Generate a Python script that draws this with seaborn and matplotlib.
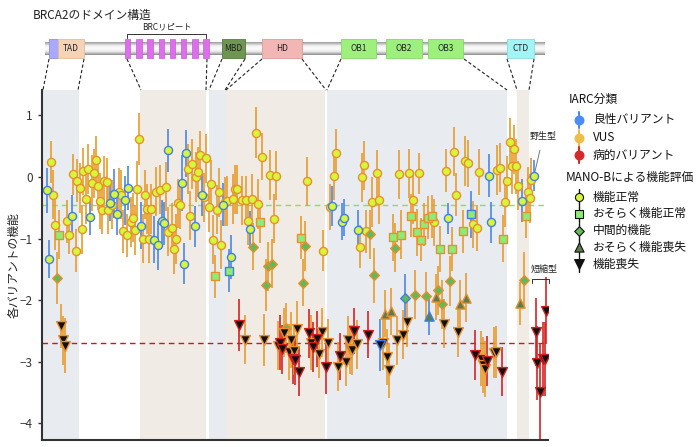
import numpy as np
import pandas as pd
import matplotlib
matplotlib.use("Agg")
import matplotlib.pyplot as plt
from matplotlib.patches import Rectangle
import seaborn as sns

sns.set_style("ticks")
plt.rcParams['font.family'] = ['Noto Sans CJK JP', 'DejaVu Sans']
plt.rcParams['axes.unicode_minus'] = True

# variant data (position along the plot, score, error half-width,
# IARC class B/V/P, MANO-B call N/PN/I/PL/L)
pos = [5.3, 9.0, 11.3, 7.0, 13.0, 17.0, 15.3, 19.0, 21.0, 23.0, 25.3, 27.3, 29.7, 31.3, 33.7,
       35.3, 37.7, 39.7, 41.3, 44.0, 46.0, 47.7, 49.7, 52.0, 54.0, 56.0, 58.0, 60.0, 62.3, 64.7,
       66.3, 68.0, 70.0, 72.0, 74.7, 76.7, 79.0, 80.7, 82.7, 84.7, 86.3, 88.7, 90.7, 93.0, 95.0,
       96.7, 99.0, 101.3, 103.3, 105.0, 107.3, 109.3, 111.7, 113.7, 115.7, 118.0, 119.7, 122.0, 123.7, 126.3,
       125.7, 129.7, 133.7, 131.7, 135.7, 138.0, 139.7, 142.0, 144.0, 146.0, 148.3, 150.3, 152.7, 154.3, 156.3,
       158.3, 160.3, 162.3, 164.3, 166.7, 169.0, 171.0, 173.0, 175.0, 177.0, 179.0, 181.3, 183.0, 185.3, 187.3,
       189.3, 191.3, 193.0, 195.3, 197.3, 199.7, 203.3, 203.7, 205.7, 207.7, 209.7, 211.3, 213.7, 216.0, 218.0,
       220.0, 221.7, 224.0, 226.0, 228.3, 230.0, 232.0, 234.3, 235.7, 238.0, 240.3, 242.3, 244.0, 247.0, 248.7,
       250.7, 254.7, 251.7, 252.9, 257.0, 264.7, 258.7, 263.0, 260.7, 267.0, 269.0, 271.3, 275.3, 277.3, 279.7,
       281.3, 283.7, 285.7, 287.7, 289.7, 291.7, 293.7, 295.7, 297.7, 300.0, 302.0, 304.0, 306.3, 308.0, 310.0,
       312.3, 314.7, 316.0, 318.0, 320.0, 322.0, 324.0, 326.3, 328.3, 330.3, 332.3, 334.7, 336.7, 338.3, 340.7,
       343.0, 344.7, 347.0, 349.0, 351.0, 353.0, 355.0, 357.0, 359.0, 361.0, 363.0, 365.0, 367.0, 369.0, 371.3,
       373.3, 375.0, 377.3, 379.3, 382.0, 383.7, 385.7, 387.3, 390.0, 392.0, 393.7, 395.7, 397.7, 400.0, 402.3,
       404.0, 406.0, 408.0, 410.3, 412.3, 414.3, 416.3, 418.3, 420.7, 422.7, 424.3, 426.3, 428.7, 430.7, 433.0,
       435.0, 437.0, 439.3, 441.3, 443.0, 445.0, 447.0, 449.3, 451.7, 453.7, 455.3, 457.7, 459.7, 461.3, 463.3,
       465.3, 467.7, 469.7, 471.7, 473.7, 476.0, 477.7, 479.7, 481.7, 484.0, 485.7, 488.0, 489.3, 492.0,
       494.0, 495.3, 498.3, 500.7, 503.0, 504.3]
score = [-0.22, 0.24, -0.29, -1.33, -0.78, -0.94, -1.64, -2.42, -2.65, -2.74, -0.72, -0.95, -0.63, 0.04, -1.20,
         -0.06, -0.18, -0.85, 0.09, -0.36, 0.13, -0.65, -0.10, 0.06, 0.27, -0.14, -0.39, -0.53, -0.06, -0.09,
         -0.53, -0.42, -0.45, -0.27, -0.60, -0.25, -0.29, -0.88, -0.38, -0.95, -0.18, -0.73, -0.66, -0.86, -0.19,
         0.61, -0.79, -1.00, -0.29, -0.52, -1.00, -0.52, -1.02, -0.24, -1.11, -0.21, -0.72, -0.75, -0.16, 0.43,
         -0.89, -0.83, -1.01, -1.17, -0.43, -0.45, -0.10, -1.41, 0.38, 0.13, -0.63, 0.21, -0.80, 0.00, 0.08,
         0.35, -0.29, -0.33, 0.30, -0.49, -0.12, -1.02, -1.61, -0.53, -0.25, -1.10, -0.45, -0.40, -0.39, -1.52,
         -1.30, -0.36, -0.20, -0.20, -2.40, -0.38, -2.64, -0.38, -0.71, -0.85, -0.36, -1.13, 0.72, -0.44, -0.73,
         0.33, -2.65, -1.76, -1.45, 0.03, -1.41, -0.68, 0.02, -2.74, -2.69, -2.80, -2.53, -2.45, -2.84, -2.65,
         -2.96, -2.47, -2.82, -2.97, -3.16, -0.07, -0.99, -1.12, -1.72, -2.54, -2.69, -2.76, -2.63, -2.87, -2.52,
         -1.20, -3.08, -2.70, -0.49, -0.47, 0.02, 0.38, -3.08, -2.91, -0.73, -0.66, -3.00, -2.65, -2.80, -2.81,
         -2.50, -2.72, -0.87, -1.13, -0.01, 0.19, -0.88, -2.56, -0.93, -0.41, -1.60, 0.06, -0.37, -2.73, -2.69,
         -2.22, -2.92, -3.14, -2.18, -0.98, -1.15, -2.65, 0.04, -0.94, -2.56, -1.96, -2.36, 0.06, -0.63, -0.37,
         -1.91, -0.90, 0.06, -1.02, -0.77, -1.94, -0.66, -2.26, -0.64, -0.74, -1.95, -1.84, -1.17, -2.07, -2.38,
         0.10, -0.67, -1.69, -1.17, 0.41, -0.29, -2.51, -2.07, -0.88, 0.26, -1.96, 0.22, -0.61, -0.77, -2.89,
         -0.83, 0.08, -2.95, -3.05, -3.12, -2.99, 0.02, -0.74, -2.85, -2.84, 0.11, 0.15, -3.16, -1.00, -0.41,
         -0.06, 0.56, 0.18, 0.45, 0.17, -0.14, -2.05, -0.39, -1.67, -0.64, -0.24, -0.35, -0.05, 0.02,
         -2.52, -3.02, -3.49, -2.96, -2.95, -2.17]
err = [0.36, 0.34, 0.40, 0.31, 0.40, 0.40, 0.42, 0.35, 0.40, 0.45, 0.35, 0.30, 0.33, 0.33, 0.35,
       0.35, 0.40, 0.40, 0.38, 0.40, 0.40, 0.30, 0.45, 0.40, 0.40, 0.40, 0.45, 0.40, 0.40, 0.40,
       0.40, 0.30, 0.40, 0.40, 0.35, 0.40, 0.40, 0.35, 0.40, 0.35, 0.35, 0.40, 0.40, 0.40, 0.45,
       0.42, 0.38, 0.40, 0.40, 0.40, 0.40, 0.40, 0.38, 0.40, 0.40, 0.40, 0.35, 0.35, 0.40, 0.35,
       0.40, 0.40, 0.40, 0.40, 0.40, 0.40, 0.45, 0.33, 0.38, 0.40, 0.40, 0.40, 0.33, 0.40, 0.40,
       0.40, 0.35, 0.40, 0.40, 0.40, 0.40, 0.40, 0.35, 0.40, 0.40, 0.40, 0.35, 0.40, 0.40, 0.35,
       0.35, 0.40, 0.40, 0.40, 0.42, 0.40, 0.40, 0.40, 0.40, 0.30, 0.40, 0.38, 0.42, 0.40, 0.35,
       0.38, 0.42, 0.42, 0.40, 0.40, 0.40, 0.40, 0.40, 0.40, 0.45, 0.40, 0.40, 0.40, 0.45, 0.45,
       0.40, 0.45, 0.40, 0.40, 0.40, 0.40, 0.35, 0.40, 0.38, 0.40, 0.45, 0.40, 0.45, 0.40, 0.40,
       0.33, 0.45, 0.40, 0.38, 0.33, 0.40, 0.40, 0.40, 0.38, 0.30, 0.30, 0.40, 0.40, 0.40, 0.40,
       0.38, 0.40, 0.33, 0.35, 0.40, 0.40, 0.35, 0.38, 0.40, 0.40, 0.45, 0.38, 0.40, 0.42, 0.45,
       0.38, 0.45, 0.45, 0.38, 0.38, 0.40, 0.40, 0.40, 0.40, 0.40, 0.38, 0.40, 0.40, 0.35, 0.40,
       0.40, 0.38, 0.33, 0.35, 0.35, 0.40, 0.35, 0.30, 0.35, 0.38, 0.38, 0.40, 0.38, 0.40, 0.40,
       0.35, 0.25, 0.40, 0.35, 0.40, 0.35, 0.42, 0.40, 0.35, 0.40, 0.40, 0.38, 0.38, 0.38, 0.40,
       0.38, 0.38, 0.45, 0.45, 0.45, 0.40, 0.35, 0.33, 0.42, 0.42, 0.40, 0.40, 0.40, 0.38, 0.40,
       0.40, 0.40, 0.45, 0.40, 0.45, 0.40, 0.35, 0.35, 0.45, 0.35, 0.40, 0.40, 0.35, 0.25,
       0.55, 0.60, 0.80, 0.60, 0.60, 0.55]
iarc = ['B', 'V', 'V', 'B', 'V', 'V', 'V', 'V', 'V', 'V', 'V', 'V', 'B', 'V', 'V',
        'V', 'V', 'V', 'V', 'V', 'V', 'B', 'V', 'V', 'V', 'V', 'V', 'V', 'V', 'V',
        'V', 'B', 'V', 'B', 'B', 'V', 'V', 'V', 'B', 'V', 'B', 'V', 'V', 'V', 'V',
        'V', 'B', 'V', 'V', 'V', 'V', 'V', 'B', 'V', 'B', 'V', 'B', 'B', 'V', 'B',
        'V', 'V', 'V', 'V', 'V', 'V', 'B', 'B', 'B', 'V', 'V', 'V', 'B', 'V', 'V',
        'V', 'B', 'V', 'V', 'V', 'V', 'V', 'V', 'V', 'V', 'V', 'B', 'V', 'V', 'B',
        'B', 'V', 'V', 'V', 'P', 'V', 'V', 'V', 'V', 'B', 'V', 'V', 'V', 'V', 'V',
        'V', 'V', 'V', 'V', 'V', 'V', 'V', 'V', 'V', 'P', 'P', 'V', 'V', 'V', 'V',
        'P', 'V', 'V', 'P', 'P', 'V', 'V', 'V', 'V', 'P', 'V', 'P', 'P', 'V', 'V',
        'V', 'P', 'V', 'V', 'B', 'V', 'V', 'V', 'P', 'B', 'B', 'V', 'V', 'V', 'V',
        'P', 'V', 'B', 'V', 'V', 'V', 'V', 'P', 'V', 'V', 'V', 'V', 'V', 'B', 'V',
        'V', 'V', 'V', 'V', 'V', 'V', 'V', 'V', 'V', 'V', 'B', 'V', 'V', 'V', 'V',
        'V', 'V', 'V', 'V', 'V', 'V', 'V', 'B', 'V', 'V', 'V', 'V', 'V', 'V', 'V',
        'V', 'B', 'V', 'V', 'V', 'V', 'V', 'V', 'V', 'V', 'V', 'V', 'B', 'V', 'P',
        'V', 'V', 'V', 'V', 'V', 'P', 'B', 'B', 'V', 'V', 'V', 'V', 'P', 'V', 'V',
        'V', 'V', 'V', 'V', 'V', 'V', 'V', 'B', 'V', 'V', 'V', 'V', 'V', 'B',
        'P', 'P', 'P', 'P', 'P', 'P']
func = ['N', 'N', 'N', 'N', 'N', 'PN', 'I', 'L', 'L', 'L', 'N', 'N', 'N', 'N', 'N',
        'N', 'N', 'N', 'N', 'N', 'N', 'N', 'N', 'N', 'N', 'N', 'N', 'N', 'N', 'N',
        'N', 'N', 'N', 'N', 'N', 'N', 'N', 'N', 'N', 'N', 'N', 'N', 'N', 'N', 'N',
        'N', 'N', 'N', 'N', 'N', 'N', 'N', 'N', 'N', 'N', 'N', 'N', 'N', 'N', 'N',
        'N', 'N', 'N', 'N', 'N', 'N', 'N', 'N', 'N', 'N', 'N', 'N', 'N', 'N', 'N',
        'N', 'N', 'N', 'N', 'N', 'N', 'N', 'PN', 'N', 'N', 'N', 'N', 'N', 'N', 'PN',
        'N', 'N', 'N', 'N', 'L', 'N', 'L', 'N', 'N', 'N', 'N', 'I', 'N', 'N', 'PN',
        'N', 'L', 'I', 'I', 'N', 'I', 'N', 'N', 'L', 'L', 'L', 'L', 'I', 'L', 'L',
        'L', 'L', 'L', 'L', 'L', 'N', 'PN', 'I', 'I', 'L', 'L', 'L', 'L', 'L', 'L',
        'N', 'L', 'L', 'N', 'N', 'N', 'N', 'L', 'L', 'N', 'N', 'L', 'L', 'L', 'L',
        'L', 'L', 'N', 'N', 'N', 'N', 'N', 'L', 'I', 'N', 'I', 'N', 'N', 'L', 'L',
        'PL', 'L', 'L', 'PL', 'PN', 'I', 'L', 'N', 'PN', 'L', 'I', 'L', 'N', 'PN', 'N',
        'I', 'PN', 'N', 'PN', 'PN', 'I', 'PN', 'PL', 'PN', 'N', 'PL', 'I', 'PN', 'I', 'L',
        'N', 'N', 'I', 'PN', 'N', 'N', 'L', 'PL', 'PN', 'N', 'PL', 'N', 'PN', 'N', 'L',
        'N', 'N', 'L', 'L', 'L', 'L', 'N', 'N', 'L', 'L', 'N', 'N', 'L', 'PN', 'N',
        'N', 'N', 'N', 'N', 'N', 'N', 'PL', 'N', 'I', 'PN', 'N', 'N', 'N', 'N',
        'L', 'L', 'L', 'L', 'L', 'L']

# position of the wild-type reference measurement
wt_pos = 492.0

normal_level = -0.45
lof_level = -2.69

# domain shading in the variant plot
shade_lo = [1, 98, 167, 184, 285, 475]
shade_hi = [37, 164, 184, 283, 465, 487]
shade_col = ['#e8ecf0', '#f1ebe5', '#e8ecf0', '#f1ebe5', '#e8ecf0', '#f1ebe5']

# domain cartoon (figure pixels)
dom_names = ['', 'TAD', 'MBD', 'HD', 'OB1', 'OB2', 'OB3', 'CTD']
dom_x0 = [49, 58, 222, 262, 341, 386, 428, 507]
dom_x1 = [58, 84, 245, 302, 376, 422, 463, 534]
dom_col = ['#a9a9ff', '#f4d3b6', '#6f9552', '#f2b6b4', '#9ef07d', '#9ef07d', '#9ef07d', '#a2f5f5']
dom_edge = ['#8f8fe8', '#e3bc9a', '#587a40', '#dc9a98', '#86d868', '#86d868', '#86d868', '#86dede']
brc_x0 = [125, 136.2, 147.4, 158.6, 169.8, 181, 192.2, 203.4]
conn_top = [49, 84, 127, 207, 222, 245, 262, 302, 341, 464, 507, 534]
conn_bot = [43, 78, 141, 206, 209, 225, 226, 326, 327, 507, 517, 529]

df = pd.DataFrame({'pos': pos, 'score': score, 'err': err, 'iarc': iarc, 'func': func})

bar_col = {'B': '#4a86e8', 'V': '#e89b2c', 'P': '#d42323'}
edge_col = {'B': '#3f7fe6', 'V': '#e8902a', 'P': '#d01f1f'}
fill_col = {'N': '#d7f53a', 'PN': '#8cec76', 'I': '#63b85a', 'PL': '#5d7b4e', 'L': '#111111'}
marker = {'N': 'o', 'PN': 's', 'I': 'D', 'PL': '^', 'L': 'v'}
msize = {'N': 34, 'PN': 26, 'I': 24, 'PL': 44, 'L': 50}

fig = plt.figure(figsize=(7, 4.47), dpi=100)
ax = fig.add_axes([42 / 700, 7 / 447, 506 / 700, 350 / 447])

for lo, hi, c in zip(shade_lo, shade_hi, shade_col):
    ax.axvspan(lo, hi, color=c, lw=0, zorder=0)

ax.axhline(normal_level, color='#8de04a', ls=(0, (4, 3)), lw=1, zorder=1)
ax.axhline(lof_level, color='#c8191e', ls=(0, (4, 3)), lw=1, zorder=1)

ax.vlines(df['pos'], df['score'] - df['err'], df['score'] + df['err'],
          colors=df['iarc'].map(bar_col), lw=1.4, alpha=0.85, zorder=2)

for f in ['N', 'PN', 'I', 'PL', 'L']:
    for c in ['V', 'B', 'P']:
        sub = df[(df['func'] == f) & (df['iarc'] == c)]
        if len(sub) == 0:
            continue
        sns.scatterplot(data=sub, x='pos', y='score', marker=marker[f], s=msize[f],
                        color=fill_col[f], edgecolor=edge_col[c], linewidth=1,
                        ax=ax, legend=False, zorder=3)

ax.set_xlim(0, 506)
ax.set_ylim(-4.27, 1.41)
ax.set_yticks([1, 0, -1, -2, -3, -4])
ax.set_xticks([])
ax.set_xlabel('')
ax.set_ylabel('各バリアントの機能', fontsize=8.5, color='#222222')
ax.yaxis.set_label_coords(-0.043, 0.5)
ax.tick_params(axis='y', labelsize=8.5, colors='#333333', length=3, width=1)
for s in ['top', 'right']:
    ax.spines[s].set_visible(False)
for s in ['left', 'bottom']:
    ax.spines[s].set_color('#333333')
    ax.spines[s].set_linewidth(1.5)

# overlay in figure pixels for the domain cartoon and legend
ov = fig.add_axes([0, 0, 1, 1])
ov.set_xlim(0, 700)
ov.set_ylim(447, 0)
ov.axis('off')

ov.text(33, 15, 'BRCA2のドメイン構造', fontsize=8.5, va='center', ha='left', color='#222222')

grad = np.array([0.45, 0.3, 0.15, 0.06, 0.04, 0.08, 0.18, 0.32, 0.5])[:, None]
ov.imshow(grad, extent=(45, 545, 55, 42), cmap='Greys', vmin=0, vmax=1, aspect='auto', zorder=1)
ov.set_xlim(0, 700)
ov.set_ylim(447, 0)

for name, x0, x1, c, e in zip(dom_names, dom_x0, dom_x1, dom_col, dom_edge):
    ov.add_patch(Rectangle((x0, 39), x1 - x0, 19, fc=c, ec=e, lw=0.6, zorder=2))
    if name:
        ov.text((x0 + x1) / 2, 48.5, name, fontsize=6, ha='center', va='center', color='#222222', zorder=3)
for x0 in brc_x0:
    ov.add_patch(Rectangle((x0, 39), 5.3, 19, fc='#dd70ea', ec='#c85ad6', lw=0.5, zorder=2))

ov.plot([127, 127, 206, 206], [38, 34, 34, 38], color='#333333', lw=0.7)
ov.text(167, 27, 'BRCリピート', fontsize=6, ha='center', va='center', color='#222222')

for xt, xb in zip(conn_top, conn_bot):
    ov.plot([xt, xb], [59, 90], color='#222222', ls=(0, (3, 2)), lw=0.8)

# annotations
wt = df[df['pos'] == wt_pos].iloc[0]
ax.annotate('野生型', xy=(wt['pos'], wt['score']), xytext=(543, 137),
            textcoords=ov.transData, fontsize=6.5, ha='center', va='center', color='#222222',
            arrowprops=dict(arrowstyle='-', color='#777777', lw=0.7, shrinkA=4, shrinkB=3))
ov.plot([532, 532, 549, 549], [283, 279, 279, 283], color='#333333', lw=0.7)
ov.text(544, 269, '短縮型', fontsize=6.5, ha='center', va='center', color='#222222')

# legend
ov.text(569, 99, 'IARC分類', fontsize=8.5, va='center', color='#111111')
leg_iarc = [('良性バリアント', '#4b8bf5'), ('VUS', '#eebd4b'), ('病的バリアント', '#d42a2a')]
for i, (lab, c) in enumerate(leg_iarc):
    y = 120 + i * 17.5
    ov.plot([579, 579], [y - 8, y + 8], color=c, lw=1.5)
    ov.scatter([579], [y], s=38, color=c, zorder=3)
    ov.text(593, y, lab, fontsize=8.5, va='center', color='#111111')

ov.text(566, 178, 'MANO-Bによる機能評価', fontsize=8.5, va='center', color='#111111')
leg_func = [('機能正常', 'N'), ('おそらく機能正常', 'PN'), ('中間的機能', 'I'),
            ('おそらく機能喪失', 'PL'), ('機能喪失', 'L')]
for i, (lab, f) in enumerate(leg_func):
    y = 197 + i * 16.8
    ov.plot([579, 579], [y - 8, y + 8], color='#111111', lw=1)
    ov.scatter([579], [y], s=msize[f], marker=marker[f], color=fill_col[f],
               edgecolor='#111111', linewidth=0.8, zorder=3)
    ov.text(593, y, lab, fontsize=8.5, va='center', color='#111111')

fig.savefig('out.png', dpi=100)
